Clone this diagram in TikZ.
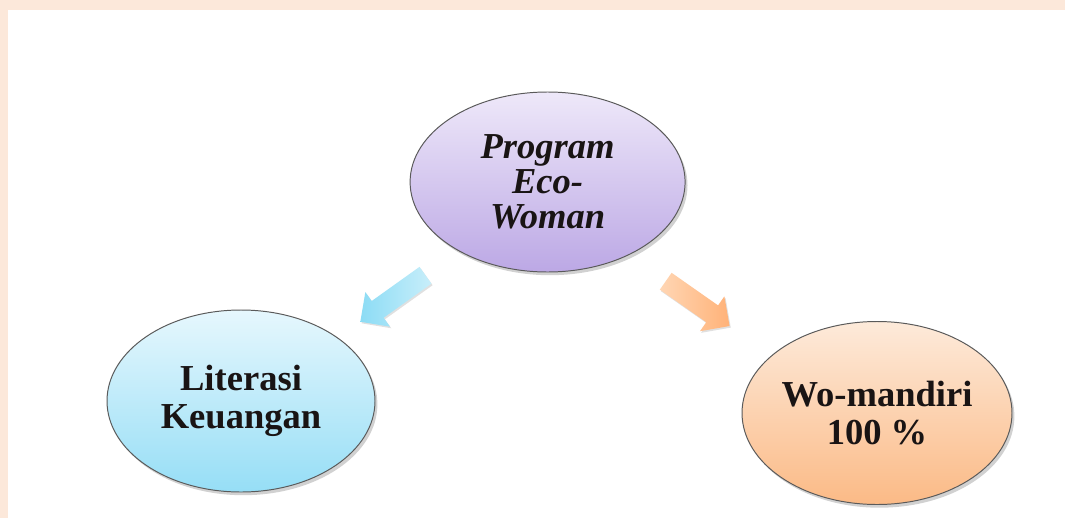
\documentclass[tikz,border=0pt]{standalone}
\usepackage{fontspec}
\setmainfont{Liberation Serif}
\usetikzlibrary{shapes.geometric,shapes.arrows,shadows}

\definecolor{peach}{RGB}{252,232,218}
\definecolor{rimgray}{RGB}{90,90,90}
\definecolor{inkdark}{RGB}{25,20,20}
\definecolor{lilactop}{RGB}{238,232,249}
\definecolor{lilacbot}{RGB}{188,168,229}
\definecolor{skytop}{RGB}{230,247,253}
\definecolor{skybot}{RGB}{150,222,246}
\definecolor{apricottop}{RGB}{253,234,218}
\definecolor{apricotbot}{RGB}{251,186,134}

\tikzset{
  bubble/.style={ellipse, draw=rimgray, line width=0.7pt, inner sep=0pt, align=center,
    text=inkdark, font=\fontsize{26}{27.5}\selectfont\bfseries,
    drop shadow={shadow xshift=0.06cm, shadow yshift=-0.08cm, opacity=0.18, fill=black}},
  flowarrow/.style={single arrow, draw=none, inner xsep=0pt, inner ysep=0.25cm, minimum width=1.05cm,
    single arrow head extend=0.275cm, single arrow tip angle=90, sloped, allow upside down,
    drop shadow={shadow xshift=0.03cm, shadow yshift=-0.04cm, opacity=0.12, fill=black}}
}

\begin{document}
\begin{tikzpicture}[]
% background and frame
\fill[peach] (0,0) rectangle (26.625,12.95);
\fill[white] (0.2,0) rectangle (26.625,12.7);
\useasboundingbox (0,0) rectangle (26.625,12.95);

% ellipses
\node at (13.69,8.4) [bubble, minimum width=6.875cm, minimum height=4.5cm,
  top color=lilactop, bottom color=lilacbot,
  font=\fontsize{26}{25}\selectfont\bfseries\itshape] (prog) {Program\\Eco-\\Woman};
\node at (6.025,2.925) [bubble, minimum width=6.7cm, minimum height=4.55cm,
  top color=skytop, bottom color=skybot] (lit) {Literasi\\Keuangan};
\node at (21.925,2.625) [bubble, minimum width=6.25cm, minimum height=4.575cm,
  top color=apricottop, bottom color=apricotbot] (wom) {Wo-mandiri\\100 \%};

% arrows
\path ([shift={(0.07,-0.1)}]prog.center) -- node[flowarrow, pos=0.5, minimum height=2cm,
  left color={rgb,255:red,140;green,220;blue,245}, right color={rgb,255:red,200;green,238;blue,250}] (toLit) {}
  ([shift={(0.07,-0.1)}]lit.center);
\path ([shift={(-0.2,-0.27)}]prog.center) -- node[flowarrow, pos=0.467, minimum height=1.95cm,
  left color={rgb,255:red,255;green,214;blue,180}, right color={rgb,255:red,255;green,178;blue,120}] (toWom) {}
  ([shift={(-0.2,-0.27)}]wom.center);
\end{tikzpicture}
\end{document}
